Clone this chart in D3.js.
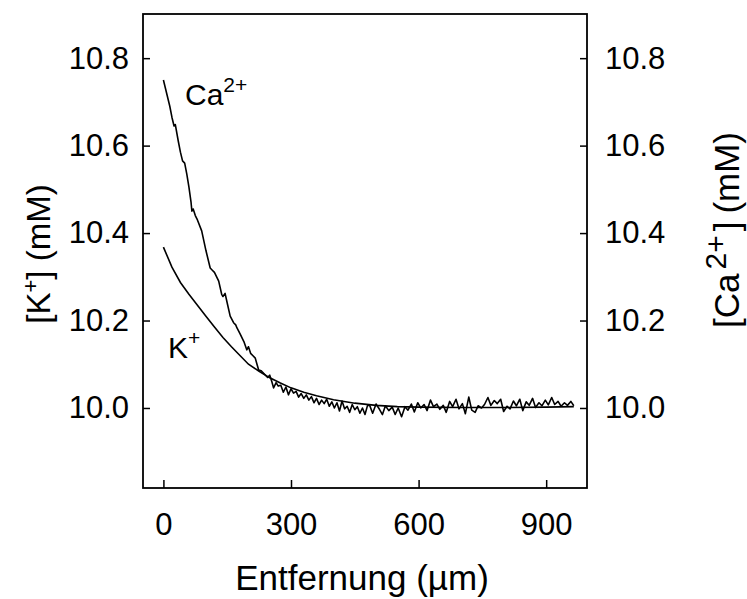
<!DOCTYPE html>
<html>
<head>
<meta charset="utf-8">
<script src="https://cdn.jsdelivr.net/npm/d3@7"></script>
<style>
  body { margin: 0; background: #fff; }
  text { font-family: "Liberation Sans", Arial, sans-serif; fill: #000; }
</style>
</head>
<body>
<svg id="svg-profile"></svg>
<script>
var width = 747,
    height = 599,
    margin = {left: 143, right: 160, top: 14, bottom: 111};

// distance (µm) and concentrations (mM)
var kDist = [0, 20, 40, 60, 80, 100, 120, 140, 160, 180, 200, 225, 250, 275, 300, 330, 360, 400, 450, 500, 550, 600, 700, 800, 900, 965];
var kConc = [10.368, 10.322, 10.287, 10.26, 10.235, 10.21, 10.185, 10.161, 10.14, 10.12, 10.1, 10.084, 10.069, 10.057, 10.046, 10.036, 10.028, 10.019, 10.011, 10.006, 10.003, 10.002, 10.001, 10.001, 10.002, 10.003];

var caDist = [0, 5, 10, 15, 20, 25, 28, 35, 40, 45,
  50, 55, 60, 65, 67, 70, 75, 80, 90, 100,
  110, 115, 120, 130, 137, 140, 145, 150, 157, 165,
  170, 173, 180, 190, 196, 200, 205, 210, 216, 220,
  224, 230, 239, 245, 250, 255,
  259, 265, 270, 276, 282, 288, 294, 300, 306, 312,
  318, 324, 330, 336, 342, 348, 354, 360, 366, 372,
  378, 384, 390, 396, 402, 408, 414, 420, 426, 432,
  438, 444, 450, 456, 462, 468, 474, 480,
  485, 492, 500, 508, 515, 522, 530, 538, 545, 552,
  560, 568, 575, 583, 590, 598, 605, 613, 620, 628,
  635, 643, 650, 658, 665, 673, 680, 688, 695, 703,
  710, 718, 725, 733, 740, 748, 755, 763, 770, 778,
  785, 793, 800, 808, 815, 823, 830, 838, 845, 853,
  860, 868, 875, 883, 890, 898, 905, 913, 920, 928,
  935, 943, 950, 958, 965];
var caConc = [10.75, 10.73, 10.71, 10.69, 10.665, 10.645, 10.648, 10.61, 10.585, 10.565,
  10.56, 10.535, 10.505, 10.47, 10.45, 10.455, 10.44, 10.43, 10.405, 10.36,
  10.32, 10.315, 10.31, 10.29, 10.26, 10.255, 10.262, 10.24, 10.21, 10.195,
  10.19, 10.183, 10.17, 10.15, 10.133, 10.14, 10.125, 10.12, 10.114, 10.1,
  10.087, 10.085, 10.076, 10.07, 10.075, 10.06,
  10.046, 10.058, 10.05, 10.052, 10.036, 10.048, 10.03, 10.044, 10.034, 10.038,
  10.025, 10.033, 10.022, 10.03, 10.018, 10.026, 10.012, 10.022, 10.008, 10.018,
  10.01, 10.02, 10.004, 10.014, 10.0, 10.012, 9.993, 10.016, 9.998, 10.004,
  9.99, 10.008, 9.996, 10.003, 9.988, 10.0, 9.985, 10.006,
  10.006, 9.988, 10.009, 9.997, 9.985, 10.005, 9.994, 10.002, 9.985, 10.0,
  9.98, 10.003, 9.995, 10.009, 9.991, 10.012, 10.0, 10.008, 9.994, 10.018,
  10.003, 10.009, 9.997, 10.006, 9.99, 10.015, 10.003, 10.02, 9.998, 10.01,
  9.987, 10.025, 9.995, 9.99, 10.005, 10.0, 10.008, 10.024, 10.006, 10.017,
  10.01, 10.02, 9.992, 10.004, 9.998, 10.016, 10.005, 10.02, 9.994, 10.014,
  10.006, 10.022, 10.001, 10.012, 10.005, 10.018, 10.007, 10.024, 10.008, 10.015,
  10.004, 10.012, 10.006, 10.015, 10.005];

var xTicks = [0, 300, 600, 900];
var yTicks = [10.0, 10.2, 10.4, 10.6, 10.8];

var x = d3.scaleLinear().domain([-48, 996]).range([margin.left, width - margin.right]),
    y = d3.scaleLinear().domain([9.817, 10.901]).range([height - margin.bottom, margin.top]);

var svg = d3.select('#svg-profile')
  .attr('width', width)
  .attr('height', height);

var line = d3.line()
  .x(function(d) { return x(d[0]); })
  .y(function(d) { return y(d[1]); });

function drawAxes() {
  svg.append('g')
    .attr('transform', 'translate(' + margin.left + ',0)')
    .call(d3.axisLeft(y).tickValues(yTicks).tickFormat(d3.format('.1f'))
      .tickSizeInner(-7).tickSizeOuter(0).tickPadding(14));

  svg.append('g')
    .attr('transform', 'translate(' + (width - margin.right) + ',0)')
    .call(d3.axisRight(y).tickValues(yTicks).tickFormat(d3.format('.1f'))
      .tickSizeInner(-7).tickSizeOuter(0).tickPadding(18));

  svg.append('g')
    .attr('transform', 'translate(0,' + (height - margin.bottom) + ')')
    .call(d3.axisBottom(x).tickValues(xTicks)
      .tickSizeInner(-8).tickSizeOuter(0).tickPadding(25));

  svg.selectAll('.tick text').style('font-size', '31px');
  svg.selectAll('.domain').remove();
  svg.selectAll('.tick line').attr('stroke', '#000').attr('stroke-width', 1.5);

  // frame
  svg.append('rect')
    .attr('x', margin.left)
    .attr('y', margin.top)
    .attr('width', width - margin.left - margin.right)
    .attr('height', height - margin.top - margin.bottom)
    .attr('fill', 'none')
    .attr('stroke', '#000')
    .attr('stroke-width', 1.8);
}

function drawCurves() {
  svg.append('path')
    .datum(d3.zip(kDist, kConc))
    .attr('d', line)
    .attr('fill', 'none')
    .attr('stroke', '#000')
    .attr('stroke-width', 1.6);

  svg.append('path')
    .datum(d3.zip(caDist, caConc))
    .attr('d', line)
    .attr('fill', 'none')
    .attr('stroke', '#000')
    .attr('stroke-width', 1.6)
    .attr('stroke-linejoin', 'round');
}

function drawLabels() {
  svg.append('text')
    .attr('x', 362).attr('y', 590)
    .attr('text-anchor', 'middle')
    .style('font-size', '35px')
    .text('Entfernung (µm)');

  var kl = svg.append('text')
    .attr('transform', 'translate(50,254) rotate(-90)')
    .attr('text-anchor', 'middle')
    .style('font-size', '33px');
  kl.append('tspan').text('[K');
  kl.append('tspan').attr('dy', -12).style('font-size', '22px').text('+');
  kl.append('tspan').attr('dy', 12).text('] (mM)');

  var cl = svg.append('text')
    .attr('transform', 'translate(739,230) rotate(-90)')
    .attr('text-anchor', 'middle')
    .style('font-size', '35px');
  cl.append('tspan').text('[Ca');
  cl.append('tspan').attr('dx', 4).attr('dy', -13).style('font-size', '30px').text('2+');
  cl.append('tspan').attr('dx', 4).attr('dy', 13).text(']');
  cl.append('tspan').attr('dx', 8).text('(mM)');

  var ca = svg.append('text')
    .attr('x', 185).attr('y', 105)
    .style('font-size', '30px');
  ca.append('tspan').text('Ca');
  ca.append('tspan').attr('dy', -13).style('font-size', '21px').text('2+');

  var k = svg.append('text')
    .attr('x', 168).attr('y', 358)
    .style('font-size', '30px');
  k.append('tspan').text('K');
  k.append('tspan').attr('dy', -13).style('font-size', '21px').text('+');
}

drawAxes();
drawCurves();
drawLabels();
</script>
</body>
</html>
